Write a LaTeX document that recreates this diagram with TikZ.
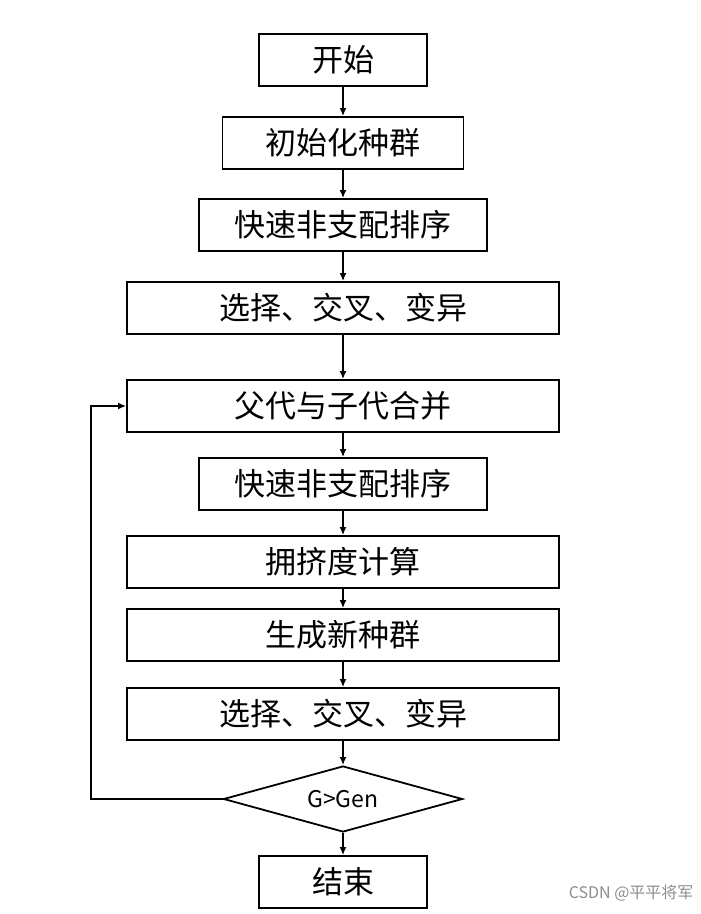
\documentclass[tikz,border=0pt]{standalone}
\usepackage{fontspec}
\setmainfont{Noto Sans CJK SC}
\usetikzlibrary{shapes.geometric}
\usetikzlibrary{arrows.meta}

\tikzset{
  stage/.style={draw, line width=1.8pt, minimum height=52pt, inner sep=0pt,
    font=\fontsize{31}{36}\selectfont},
  link/.style={line width=2pt, -{Latex[length=8pt,width=7pt]}}
}

\begin{document}
\begin{tikzpicture}[x=1pt,y=-1pt]
    \path[use as bounding box] (0,0) rectangle (701,914);
    % Stages.
    \node[stage, minimum width=168pt] (start) at (343,60) {开始};
    \node[stage, minimum width=241pt] (init) at (343,143) {初始化种群};
    \node[stage, minimum width=288pt] (sort1) at (343,225) {快速非支配排序};
    \node[stage, minimum width=432pt] (ops1) at (343,308) {选择、交叉、变异};
    \node[stage, minimum width=432pt] (merge) at (343,406) {父代与子代合并};
    \node[stage, minimum width=288pt] (sort2) at (343,484) {快速非支配排序};
    \node[stage, minimum width=432pt] (crowd) at (343,562) {拥挤度计算};
    \node[stage, minimum width=432pt] (newpop) at (343,635) {生成新种群};
    \node[stage, minimum width=432pt] (ops2) at (343,714) {选择、交叉、变异};
    \node[draw, line width=1.8pt, diamond, aspect=3.6, minimum width=239pt,
      minimum height=66pt, inner sep=0pt, font=\fontsize{23}{27}\selectfont] (check) at (343,799) {G>Gen};
    \node[stage, minimum width=168pt] (stop) at (343,882) {结束};
    % Links.
    \foreach \a/\b in {start/init, init/sort1, sort1/ops1, ops1/merge, merge/sort2,
      sort2/crowd, crowd/newpop, newpop/ops2, ops2/check, check/stop}
      \draw[link] (\a) -- (\b);
    % Loop back.
    \coordinate (bend) at (91,799);
    \draw[link] (check.west) -- (bend) |- (merge.west);
    % Watermark.
    \node[text=black!45, font=\fontsize{16}{19}\selectfont, anchor=east] (mark) at (697,893) {CSDN @平平将军};
\end{tikzpicture}
\end{document}
